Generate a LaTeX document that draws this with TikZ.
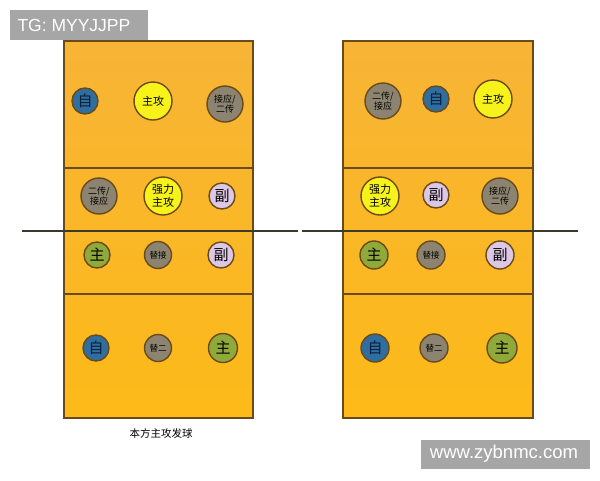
\documentclass[tikz,border=0pt]{standalone}
\usepackage{fontspec}
\setmainfont{Liberation Sans}
\newfontfamily\cjk{Noto Sans CJK SC}
\definecolor{courtA}{HTML}{F7B436}
\definecolor{courtB}{HTML}{FDBA18}
\definecolor{edge}{HTML}{6B4A1A}
\definecolor{netc}{HTML}{3C3A2C}
\definecolor{pblue}{HTML}{2F6E9E}
\definecolor{pyel}{HTML}{F6F21A}
\definecolor{pgrey}{HTML}{8C8470}
\definecolor{plav}{HTML}{DCC8E4}
\definecolor{pgreen}{HTML}{8FAA3A}
\definecolor{wm}{HTML}{A6A6A6}
\definecolor{navy}{HTML}{0A1E3C}
\tikzset{
  court/.style={draw=edge, line width=1.3pt, top color=courtA, bottom color=courtB},
  zoneline/.style={draw=edge, line width=1.6pt},
  netline/.style={draw=netc, line width=2.8pt},
  pl/.style={circle, draw=edge, line width=1.4pt, inner sep=0pt, font=\cjk, text=black},
  big/.style={pl, minimum size=38pt, fill=pyel, font=\cjk\fontsize{11}{12.5}\selectfont, align=center},
  two/.style={pl, minimum size=36pt, fill=pgrey, font=\cjk\fontsize{9}{10.5}\selectfont, align=center},
  one/.style={pl, minimum size=26pt, font=\cjk\fontsize{15}{16}\selectfont},
  small/.style={pl, minimum size=27pt, fill=pgrey, font=\cjk\fontsize{8.5}{9}\selectfont}
}
\begin{document}
\begin{tikzpicture}[x=1pt,y=-1pt]
\useasboundingbox (0,0) rectangle (600,480);
\fill[white] (0,0) rectangle (600,480);
% courts
\path[court] (64,41) rectangle (253,418);
\path[court] (343,41) rectangle (533,418);
\draw[zoneline] (64,168) -- (253,168);
\draw[zoneline] (64,294) -- (253,294);
\draw[zoneline] (343,168) -- (533,168);
\draw[zoneline] (343,294) -- (533,294);
\coordinate (nl1) at (22,231);
\coordinate (nr1) at (298,231);
\coordinate (nl2) at (302,231);
\coordinate (nr2) at (578,231);
\draw[netline] (nl1) -- (nr1);
\draw[netline] (nl2) -- (nr2);
% left court players
\node[one, fill=pblue, text=navy] (l11) at (85,101) {自};
\node[big] (l12) at (153,101) {主攻};
\node[two] (l13) at (225,104) {接应/\\二传};
\node[two] (l21) at (99,196) {二传/\\接应};
\node[big] (l22) at (163,196) {强力\\主攻};
\node[one, fill=plav] (l23) at (222,196) {副};
\node[one, fill=pgreen] (l31) at (97,255) {主};
\node[small] (l32) at (158,255) {替接};
\node[one, fill=plav] (l33) at (221,255) {副};
\node[one, fill=pblue, text=navy] (l41) at (96,348) {自};
\node[small] (l42) at (158,348) {替二};
\node[one, fill=pgreen, minimum size=29pt] (l43) at (223,348) {主};
% right court players
\node[two] (r11) at (383,101) {二传/\\接应};
\node[one, fill=pblue, text=navy] (r12) at (436,99) {自};
\node[big] (r13) at (493,99) {主攻};
\node[big] (r21) at (380,196) {强力\\主攻};
\node[one, fill=plav] (r22) at (436,195) {副};
\node[two] (r23) at (500,196) {接应/\\二传};
\node[one, fill=pgreen, minimum size=28pt] (r31) at (374,255) {主};
\node[small, minimum size=28pt] (r32) at (431,255) {替接};
\node[one, fill=plav, minimum size=28pt] (r33) at (500,255) {副};
\node[one, fill=pblue, text=navy, minimum size=28pt] (r41) at (375,348) {自};
\node[small, minimum size=28pt] (r42) at (434,348) {替二};
\node[one, fill=pgreen, minimum size=30pt] (r43) at (502,348) {主};
% caption
\node[font=\cjk\fontsize{10.5}{12}\selectfont] (cap) at (161,433) {本方主攻发球};
% watermarks
\path[fill=wm] (10,10) rectangle (148,40);
\node[anchor=west, text=white, font=\fontsize{17.5}{19}\selectfont] (tg) at (14,25) {TG: MYYJJPP};
\path[fill=wm] (421,440) rectangle (590,469);
\node[text=white, font=\fontsize{18.5}{20}\selectfont] (www) at (504,454) {www.zybnmc.com};
\end{tikzpicture}
\end{document}
